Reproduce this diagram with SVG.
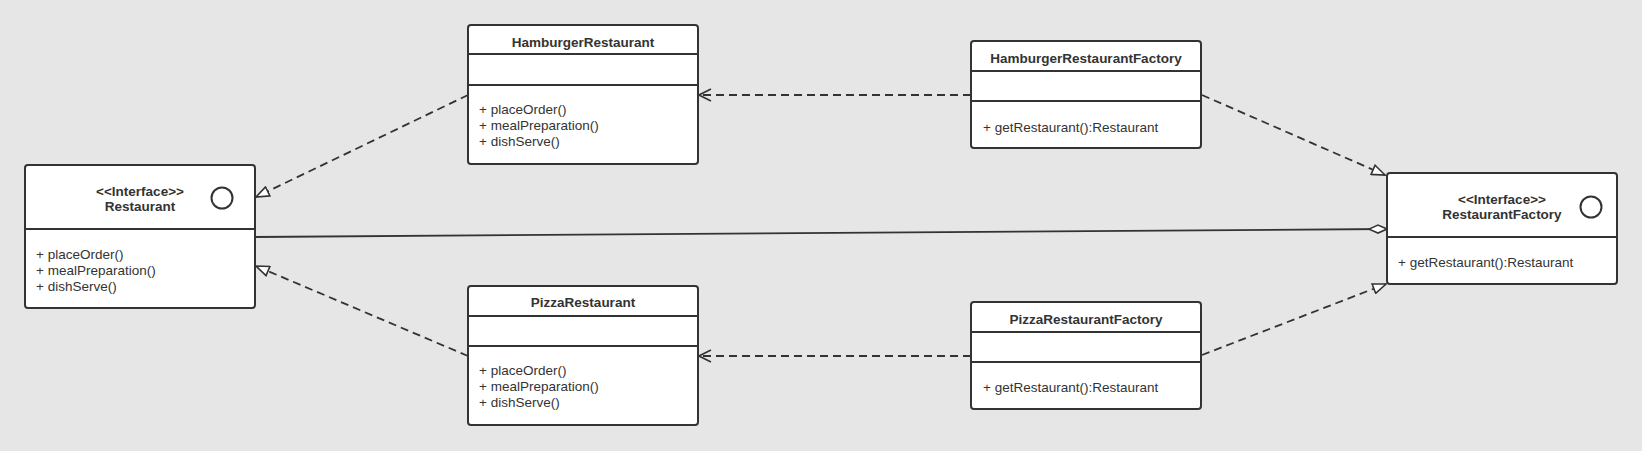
<svg xmlns="http://www.w3.org/2000/svg" width="1642" height="451" viewBox="0 0 1642 451">
<style>
.box{fill:#ffffff;stroke:#333333;stroke-width:2}
.sep{stroke:#333333;stroke-width:2}
.t{font-family:"Liberation Sans",Arial,sans-serif;font-size:13.5px;fill:#333333}
.b{font-weight:bold;text-anchor:middle}
.dash{fill:none;stroke:#333333;stroke-width:1.8;stroke-dasharray:8 5}
.solid{fill:none;stroke:#333333;stroke-width:1.8}
.icon{fill:none;stroke:#333333;stroke-width:2}
</style>
<defs>
<marker id="tri" viewBox="0 0 15 12" refX="14" refY="6" markerWidth="15" markerHeight="12" markerUnits="userSpaceOnUse" orient="auto">
<path d="M1,1 L14,6 L1,11 Z" fill="#ffffff" stroke="#333333" stroke-width="1.6" stroke-dasharray="none"/>
</marker>
<marker id="open" viewBox="0 0 14 14" refX="13" refY="7" markerWidth="14" markerHeight="14" markerUnits="userSpaceOnUse" orient="auto">
<path d="M1,1 L13,7 L1,13" fill="none" stroke="#333333" stroke-width="1.6" stroke-dasharray="none"/>
</marker>
<marker id="dia" viewBox="0 0 20 10" refX="19" refY="5" markerWidth="20" markerHeight="10" markerUnits="userSpaceOnUse" orient="auto">
<path d="M1,5 L10,1 L19,5 L10,9 Z" fill="#ffffff" stroke="#333333" stroke-width="1.6"/>
</marker>
</defs>
<rect x="0" y="0" width="1642" height="451" fill="#e6e6e6"/>

<g id="connectors">
<line class="dash" x1="468" y1="95" x2="256" y2="197" marker-end="url(#tri)"/>
<line class="dash" x1="468" y1="356" x2="256" y2="266" marker-end="url(#tri)"/>
<line class="solid" x1="255" y1="237" x2="1387" y2="229" marker-end="url(#dia)"/>
<line class="dash" x1="971" y1="95" x2="699" y2="95" marker-end="url(#open)"/>
<line class="dash" x1="971" y1="356" x2="699" y2="356" marker-end="url(#open)"/>
<line class="dash" x1="1202" y1="95" x2="1385" y2="175" marker-end="url(#tri)"/>
<line class="dash" x1="1202" y1="355" x2="1386" y2="284" marker-end="url(#tri)"/>
</g>

<g id="Restaurant">
<rect class="box" x="25" y="165" width="230" height="143" rx="3"/>
<line class="sep" x1="25" y1="229" x2="255" y2="229"/>
<text class="t b" x="140" y="196">&lt;&lt;Interface&gt;&gt;</text>
<text class="t b" x="140" y="211">Restaurant</text>
<circle class="icon" cx="222" cy="198" r="10.5"/>
<text class="t" x="36" y="259">+ placeOrder()</text>
<text class="t" x="36" y="275">+ mealPreparation()</text>
<text class="t" x="36" y="291">+ dishServe()</text>
</g>

<g id="HamburgerRestaurant">
<rect class="box" x="468" y="25" width="230" height="139" rx="3"/>
<line class="sep" x1="468" y1="54" x2="698" y2="54"/>
<line class="sep" x1="468" y1="85" x2="698" y2="85"/>
<text class="t b" x="583" y="47">HamburgerRestaurant</text>
<text class="t" x="479" y="114">+ placeOrder()</text>
<text class="t" x="479" y="130">+ mealPreparation()</text>
<text class="t" x="479" y="146">+ dishServe()</text>
</g>

<g id="PizzaRestaurant">
<rect class="box" x="468" y="286" width="230" height="139" rx="3"/>
<line class="sep" x1="468" y1="316" x2="698" y2="316"/>
<line class="sep" x1="468" y1="346" x2="698" y2="346"/>
<text class="t b" x="583" y="307">PizzaRestaurant</text>
<text class="t" x="479" y="375">+ placeOrder()</text>
<text class="t" x="479" y="391">+ mealPreparation()</text>
<text class="t" x="479" y="407">+ dishServe()</text>
</g>

<g id="HamburgerRestaurantFactory">
<rect class="box" x="971" y="41" width="230" height="107" rx="3"/>
<line class="sep" x1="971" y1="71" x2="1201" y2="71"/>
<line class="sep" x1="971" y1="101" x2="1201" y2="101"/>
<text class="t b" x="1086" y="63">HamburgerRestaurantFactory</text>
<text class="t" x="983" y="131.5">+ getRestaurant():Restaurant</text>
</g>

<g id="PizzaRestaurantFactory">
<rect class="box" x="971" y="302" width="230" height="107" rx="3"/>
<line class="sep" x1="971" y1="332" x2="1201" y2="332"/>
<line class="sep" x1="971" y1="362" x2="1201" y2="362"/>
<text class="t b" x="1086" y="324">PizzaRestaurantFactory</text>
<text class="t" x="983" y="391.5">+ getRestaurant():Restaurant</text>
</g>

<g id="RestaurantFactory">
<rect class="box" x="1387" y="173" width="230" height="111" rx="3"/>
<line class="sep" x1="1387" y1="237" x2="1617" y2="237"/>
<text class="t b" x="1502" y="204">&lt;&lt;Interface&gt;&gt;</text>
<text class="t b" x="1502" y="219">RestaurantFactory</text>
<circle class="icon" cx="1591" cy="207" r="10.5"/>
<text class="t" x="1398" y="266.5">+ getRestaurant():Restaurant</text>
</g>
</svg>
